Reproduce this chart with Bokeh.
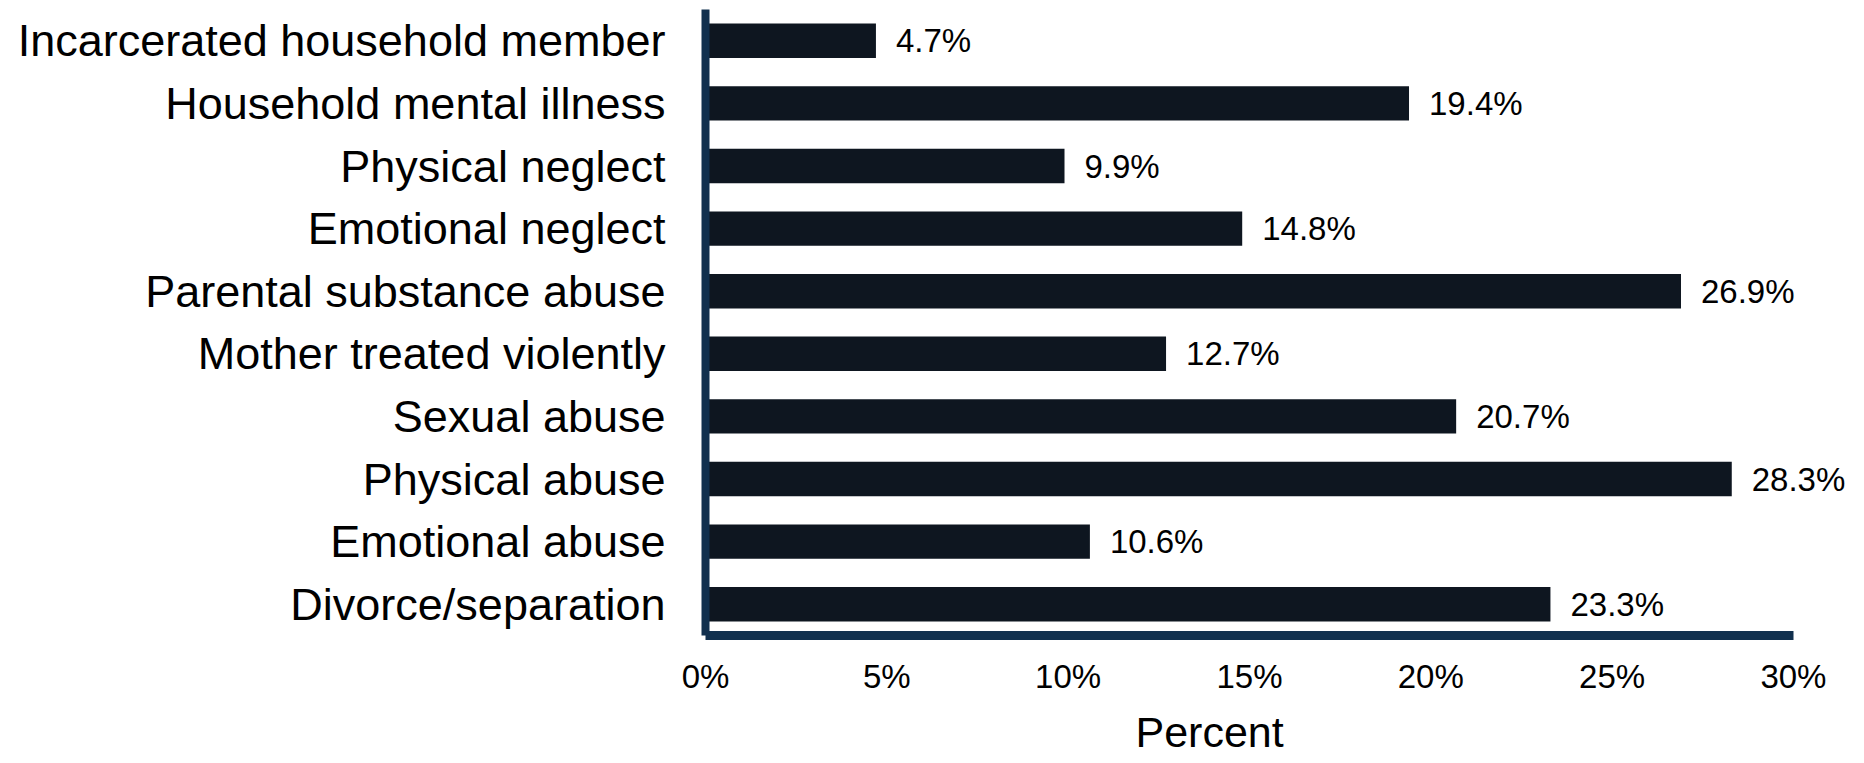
from bokeh.plotting import figure
from bokeh.models import FactorRange, Range1d, FixedTicker, ColumnDataSource, LabelSet, Title
from bokeh.core.properties import value
from bokeh.embed import file_html
from bokeh.resources import INLINE

# Data (bottom to top)
categories = [
    "Divorce/separation",
    "Emotional abuse",
    "Physical abuse",
    "Sexual abuse",
    "Mother treated violently",
    "Parental substance abuse",
    "Emotional neglect",
    "Physical neglect",
    "Household mental illness",
    "Incarcerated household member",
]
percents = [23.3, 10.6, 28.3, 20.7, 12.7, 26.9, 14.8, 9.9, 19.4, 4.7]
tick_values = [0, 5, 10, 15, 20, 25, 30]
tick_labels = ["0%", "5%", "10%", "15%", "20%", "25%", "30%"]
x_title = "Percent"

FONT = "Liberation Sans"
BAR = "#0e1620"
AXIS = "#11304e"

src = ColumnDataSource(dict(
    cat=categories,
    val=percents,
    lab=[f"{v:.1f}%" for v in percents],
))

# frame spans a little beyond 30% so that value labels are not clipped;
# the visible axis line is bounded to 0..30
p = figure(
    width=1864, height=763,
    y_range=FactorRange(factors=categories, range_padding=0),
    x_range=Range1d(0, 31.85),
    output_backend="svg", toolbar_location=None,
    min_border_left=705, min_border_right=4, min_border_top=9, min_border_bottom=127,
)
p.outline_line_color = None
p.xgrid.visible = False
p.ygrid.visible = False
p.background_fill_color = "white"
p.border_fill_color = "white"

p.hbar(y="cat", left=0, right="val", height=0.55, source=src,
       fill_color=BAR, line_color=None)
labels = LabelSet(x="val", y="cat", text="lab", source=src, x_offset=20,
                  text_baseline="middle", text_align="left",
                  text_font=value(FONT), text_font_size="33px", text_color="#000000")
p.add_layout(labels)

# axes
xa = p.xaxis[0]
xa.bounds = (tick_values[0], tick_values[-1])
xa.ticker = FixedTicker(ticks=tick_values)
xa.major_label_overrides = {t: l for t, l in zip(tick_values, tick_labels)}
xa.major_tick_line_color = None
xa.minor_tick_line_color = None
xa.major_tick_out = 0
xa.major_tick_in = 0
xa.axis_line_color = AXIS
xa.axis_line_width = 9
xa.major_label_text_font = FONT
xa.major_label_text_font_size = "33px"
xa.major_label_text_color = "#000000"
xa.major_label_standoff = 22

ya = p.yaxis[0]
ya.major_tick_line_color = None
ya.minor_tick_line_color = None
ya.major_tick_out = 0
ya.major_tick_in = 0
ya.axis_line_color = AXIS
ya.axis_line_width = 8
ya.major_label_text_font = FONT
ya.major_label_text_font_size = "45px"
ya.major_label_text_color = "#000000"
ya.major_label_standoff = 40

t = Title(text=x_title, align="left", offset=430, text_font=FONT,
          text_font_size="43px", text_font_style="normal",
          text_color="#000000", standoff=16)
p.add_layout(t, "below")

open("out.html", "w").write(file_html(p, INLINE))
